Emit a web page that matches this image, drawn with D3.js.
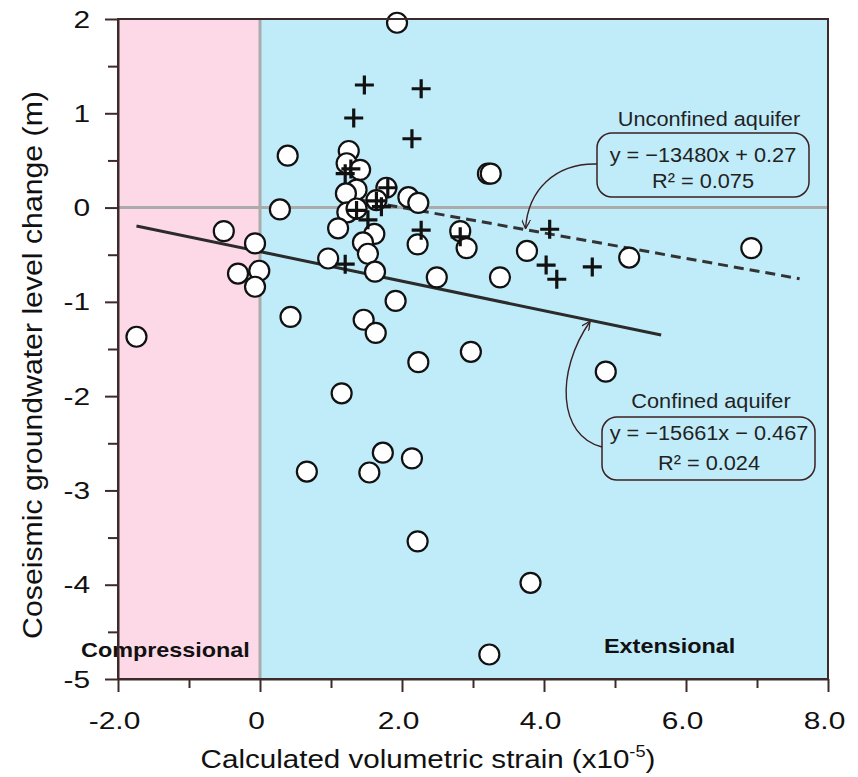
<!DOCTYPE html>
<html>
<head>
<meta charset="utf-8">
<script src="https://cdn.jsdelivr.net/npm/d3@7"></script>
<style>
  body { margin: 0; background: #fff; }
  svg { display: block; font-family: "Liberation Sans", Arial, sans-serif; }
</style>
</head>
<body>
<svg width="858" height="777"></svg>
<script>
// strain in units of 1e-5, level change in m
var confinedX = [1.93, 0.39, 1.25, 1.22, 1.41, 1.36, 1.21, 1.78, 1.64, 2.09,
  2.23, 1.23, 1.36, 0.28, 1.10, 1.61, 1.45, 1.52, 2.22, 2.82,
  2.91, 3.21, 3.25, -0.07, -0.51, -0.31, -0.01, -0.07, 0.96, 1.62,
  2.49, 3.38, 3.76, 5.20, 6.92, 1.91, 0.43, 1.46, 1.63, 2.23,
  2.97, 4.87, 1.15, 0.66, 1.54, 1.73, 2.14, 2.22, 3.81, 3.23, -1.74];
var confinedY = [1.96, 0.55, 0.60, 0.47, 0.40, 0.19, 0.15, 0.21, 0.08, 0.11,
  0.05, -0.05, -0.01, -0.02, -0.22, -0.28, -0.37, -0.49, -0.39, -0.25,
  -0.43, 0.36, 0.36, -0.38, -0.25, -0.70, -0.67, -0.84, -0.54, -0.68,
  -0.74, -0.74, -0.46, -0.53, -0.43, -0.99, -1.16, -1.19, -1.33, -1.64,
  -1.53, -1.74, -1.97, -2.80, -2.81, -2.60, -2.66, -3.54, -3.98, -4.74, -1.37];

var unconfinedX = [1.47, 2.27, 1.32, 2.14, 1.28, 1.20, 1.80, 1.64, 1.71, 1.36,
  1.52, 2.27, 2.82, 4.08, 4.03, 4.18, 4.68, 1.20];
var unconfinedY = [1.30, 1.26, 0.95, 0.73, 0.41, 0.36, 0.21, 0.07, 0.01, -0.03,
  -0.13, -0.24, -0.31, -0.23, -0.61, -0.76, -0.63, -0.60];

// trend lines (slope per unit strain) and the x span they are drawn over
var confinedFit = [-15661, -0.467];
var unconfinedFit = [-13480, 0.27];
var confinedFitRange = [-1.74, 5.65];
var unconfinedFitRange = [1.35, 7.6];

var xTicks = [-2, 0, 2, 4, 6, 8];
var xTickLabels = ["-2.0", "0", "2.0", "4.0", "6.0", "8.0"];
var xMinorTicks = [-1, 1, 3, 5, 7];
var yTicks = [2, 1, 0, -1, -2, -3, -4, -5];
var yTickLabels = ["2", "1", "0", "-1", "-2", "-3", "-4", "-5"];
var yMinorTicks = [1.5, 0.5, -0.5, -1.5, -2.5, -3.5, -4.5];

var ink = "#3d2b2b";

var svg = d3.select("svg");

var x = d3.scaleLinear().domain([-2, 8]).range([118, 828]);
var y = d3.scaleLinear().domain([-5, 2]).range([679, 19]);

function fitY(fit, v) { return fit[0] * v * 1e-5 + fit[1]; }

// background zones
svg.append("rect")
  .attr("x", x(-2)).attr("y", y(2))
  .attr("width", x(0) - x(-2)).attr("height", y(-5) - y(2))
  .attr("fill", "#fdd9e8");
svg.append("rect")
  .attr("x", x(0)).attr("y", y(2))
  .attr("width", x(8) - x(0)).attr("height", y(-5) - y(2))
  .attr("fill", "#c0ecfa");

// zero lines
svg.append("line")
  .attr("x1", x(0)).attr("x2", x(0)).attr("y1", y(2)).attr("y2", y(-5))
  .attr("stroke", "#ababab").attr("stroke-width", 3);
svg.append("line")
  .attr("x1", x(-2)).attr("x2", x(8)).attr("y1", y(0)).attr("y2", y(0))
  .attr("stroke", "#ababab").attr("stroke-width", 3);

// zone labels
svg.append("text")
  .attr("transform", "translate(81,657) scale(1.2,1)")
  .attr("font-size", 19.5).attr("font-weight", "bold").attr("fill", "#111")
  .text("Compressional");
svg.append("text")
  .attr("transform", "translate(604,653) scale(1.2,1)")
  .attr("font-size", 19.5).attr("font-weight", "bold").attr("fill", "#111")
  .text("Extensional");

// trend lines
svg.append("line")
  .attr("x1", x(confinedFitRange[0])).attr("y1", y(fitY(confinedFit, confinedFitRange[0])))
  .attr("x2", x(confinedFitRange[1])).attr("y2", y(fitY(confinedFit, confinedFitRange[1])))
  .attr("stroke", "#2b2b2b").attr("stroke-width", 3);
svg.append("line")
  .attr("x1", x(unconfinedFitRange[0])).attr("y1", y(fitY(unconfinedFit, unconfinedFitRange[0])))
  .attr("x2", x(unconfinedFitRange[1])).attr("y2", y(fitY(unconfinedFit, unconfinedFitRange[1])))
  .attr("stroke", "#333").attr("stroke-width", 3)
  .attr("stroke-dasharray", "10,6");

// confined aquifer wells
svg.append("g").selectAll("circle")
  .data(d3.range(confinedX.length))
  .enter().append("circle")
    .attr("cx", function(i) { return x(confinedX[i]); })
    .attr("cy", function(i) { return y(confinedY[i]); })
    .attr("r", 10)
    .attr("fill", "#fff")
    .attr("stroke", "#111")
    .attr("stroke-width", 2.2);

// unconfined aquifer wells
svg.append("g").selectAll("path")
  .data(d3.range(unconfinedX.length))
  .enter().append("path")
    .attr("transform", function(i) { return "translate(" + x(unconfinedX[i]) + "," + y(unconfinedY[i]) + ")"; })
    .attr("d", "M-9.5,0H9.5M0,-9.5V9.5")
    .attr("stroke", "#111")
    .attr("stroke-width", 3.2)
    .attr("fill", "none");

// frame
svg.append("rect")
  .attr("x", x(-2)).attr("y", y(2))
  .attr("width", x(8) - x(-2)).attr("height", y(-5) - y(2))
  .attr("fill", "none").attr("stroke", ink).attr("stroke-width", 2);

// axes
var xAxis = svg.append("g")
  .attr("transform", "translate(0," + y(-5) + ")")
  .call(d3.axisBottom(x).tickValues(xTicks).tickSize(13).tickSizeOuter(0)
    .tickFormat(function(d, i) { return xTickLabels[i]; }));
svg.append("g")
  .attr("transform", "translate(0," + y(-5) + ")")
  .call(d3.axisBottom(x).tickValues(xMinorTicks).tickSize(9).tickSizeOuter(0).tickFormat(""))
  .select(".domain").remove();

var yAxis = svg.append("g")
  .attr("transform", "translate(" + x(-2) + ",0)")
  .call(d3.axisLeft(y).tickValues(yTicks).tickSize(13).tickSizeOuter(0)
    .tickFormat(function(d, i) { return yTickLabels[i]; }));
svg.append("g")
  .attr("transform", "translate(" + x(-2) + ",0)")
  .call(d3.axisLeft(y).tickValues(yMinorTicks).tickSize(10).tickSizeOuter(0).tickFormat(""))
  .select(".domain").remove();

svg.selectAll(".tick line").attr("stroke", ink).attr("stroke-width", 2);
svg.selectAll(".domain").attr("stroke", ink).attr("stroke-width", 2);

xAxis.selectAll("text")
  .attr("font-size", 23).attr("font-family", "Liberation Sans, Arial, sans-serif")
  .attr("fill", "#111")
  .attr("y", 50).attr("dy", 0)
  .attr("x", -4 / 1.3)
  .attr("transform", "scale(1.3,1)");

yAxis.selectAll("text")
  .attr("font-size", 23).attr("font-family", "Liberation Sans, Arial, sans-serif")
  .attr("fill", "#111")
  .attr("x", -28 / 1.3).attr("dy", "0.35em")
  .attr("transform", "scale(1.3,1)");

// axis titles, stretched to the reference width
var xTitle = svg.append("text")
  .attr("font-size", 26).attr("fill", "#111").attr("text-anchor", "middle");
xTitle.append("tspan").text("Calculated volumetric strain (x10");
xTitle.append("tspan").attr("font-size", 16).attr("dy", -11).text("-5");
xTitle.append("tspan").attr("dy", 11).text(")");
var xw = xTitle.node().getBBox().width;
xTitle.attr("transform", "translate(428,768) scale(" + (455 / xw) + ",1)");

var yTitle = svg.append("text")
  .attr("font-size", 27).attr("fill", "#111").attr("text-anchor", "middle")
  .text("Coseismic groundwater level change (m)");
var yw = yTitle.node().getBBox().width;
yTitle.attr("transform", "translate(42,365) rotate(-90) scale(" + (548 / yw) + ",1)");

// annotations
var defs = svg.append("defs");
defs.append("marker")
  .attr("id", "arrow")
  .attr("viewBox", "0 0 10 10")
  .attr("refX", 10).attr("refY", 5)
  .attr("markerWidth", 9).attr("markerHeight", 9)
  .attr("markerUnits", "userSpaceOnUse")
  .attr("orient", "auto")
  .append("path")
    .attr("d", "M0,0L10,5L0,10")
    .attr("fill", "none").attr("stroke", "#3a2020").attr("stroke-width", 1.4);

var uTip = [x(3.74), y(fitY(unconfinedFit, 3.74))];
var cTip = [x(4.65), y(fitY(confinedFit, 4.65))];

svg.append("path")
  .attr("d", "M597,164C555,163 528,190 " + uTip[0] + "," + (uTip[1] - 1))
  .attr("fill", "none").attr("stroke", "#3a2020").attr("stroke-width", 1.4)
  .attr("marker-end", "url(#arrow)");
svg.append("path")
  .attr("d", "M602,447C558,436 555,372 " + cTip[0] + "," + (cTip[1] + 1))
  .attr("fill", "none").attr("stroke", "#3a2020").attr("stroke-width", 1.4)
  .attr("marker-end", "url(#arrow)");

svg.append("rect")
  .attr("x", 597).attr("y", 133).attr("width", 212).attr("height", 64)
  .attr("rx", 15).attr("fill", "none").attr("stroke", "#3a2020").attr("stroke-width", 1.5);
svg.append("rect")
  .attr("x", 602).attr("y", 417).attr("width", 213).attr("height", 63)
  .attr("rx", 15).attr("fill", "none").attr("stroke", "#3a2020").attr("stroke-width", 1.5);

var notes = [
  ["Unconfined aquifer", 709, 126],
  ["y = \u221213480x + 0.27", 703, 162],
  ["R\u00b2 = 0.075", 703, 188],
  ["Confined aquifer", 711, 408],
  ["y = \u221215661x \u2212 0.467", 709, 440],
  ["R\u00b2 = 0.024", 709, 470]
];
svg.append("g").selectAll("text")
  .data(notes)
  .enter().append("text")
    .attr("transform", function(d) { return "translate(" + d[1] + "," + d[2] + ") scale(1.06,1)"; })
    .attr("text-anchor", "middle")
    .attr("font-size", 20.5)
    .attr("fill", "#222")
    .text(function(d) { return d[0]; });
</script>
</body>
</html>
